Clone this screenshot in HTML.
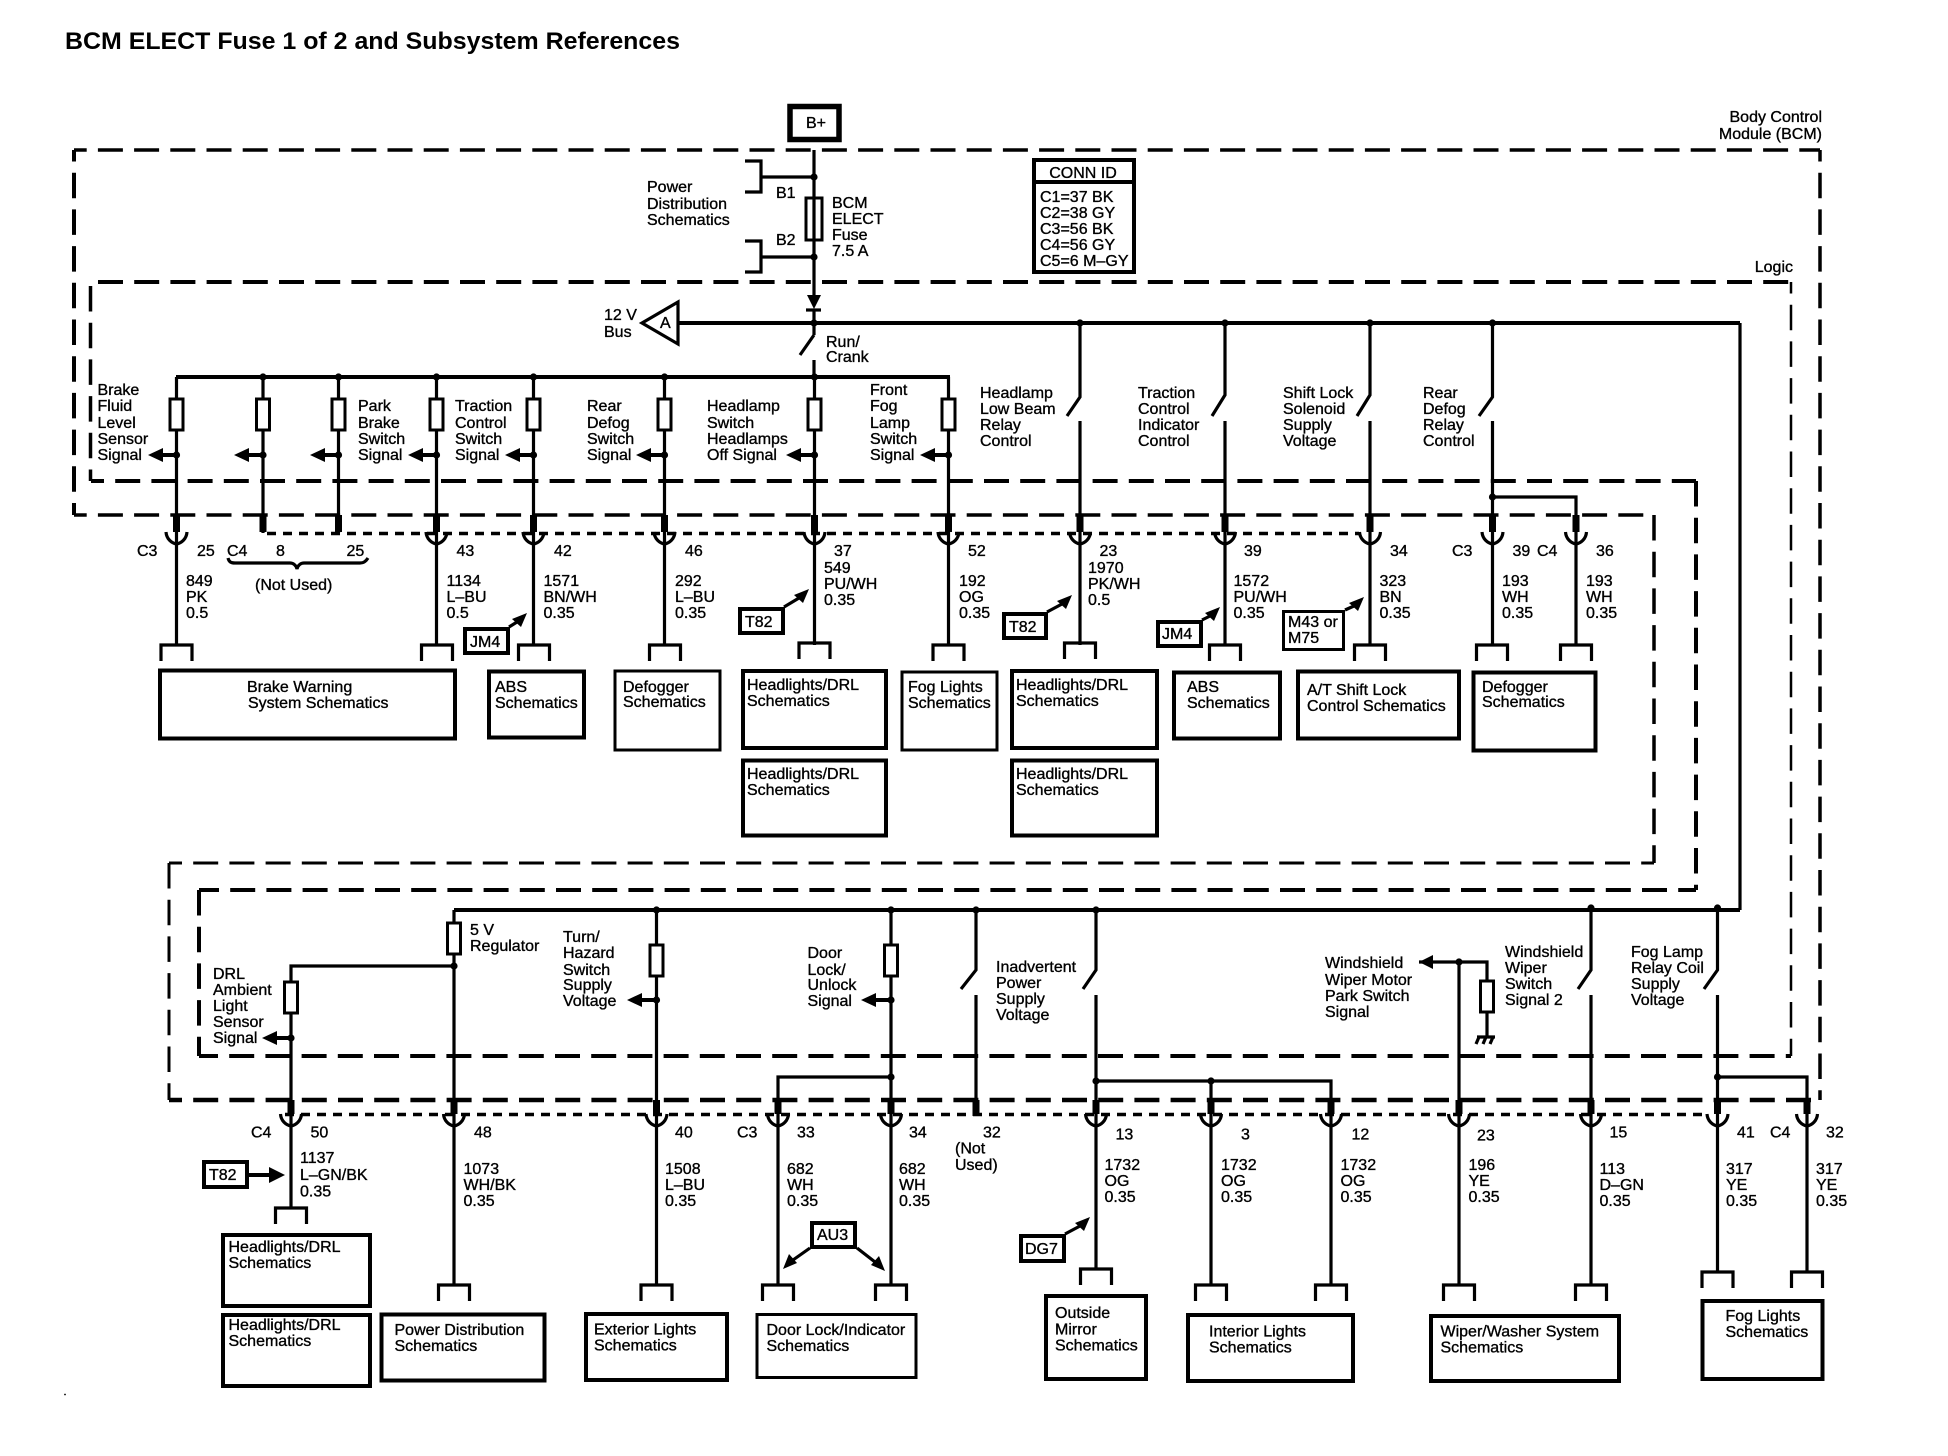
<!DOCTYPE html>
<html><head><meta charset="utf-8"><style>
html,body{margin:0;padding:0;background:#fff}
svg{display:block}
text{font-family:"Liberation Sans",sans-serif;font-size:16px;fill:#000;stroke:#000;stroke-width:.35}
.ttl{font-size:24px;font-weight:bold;stroke:none}
.w{fill:none;stroke:#000;stroke-width:3.2}
.t{fill:none;stroke:#000;stroke-width:4}
.k{fill:none;stroke:#000;stroke-width:7}
.b{fill:#fff;stroke:#000;stroke-width:4}
.b3{fill:#fff;stroke:#000;stroke-width:3}
.f{fill:#000;stroke:none}
.dh{fill:none;stroke:#000;stroke-dasharray:25 11.2}
.dv{fill:none;stroke:#000;stroke-dasharray:25.500 11.2}
.dot{fill:none;stroke:#000;stroke-width:3.500;stroke-dasharray:9 7}
</style></head><body>
<svg xmlns="http://www.w3.org/2000/svg" width="1948" height="1456" viewBox="0 0 1948 1456">
<defs>
<g id="cup"><path class="w" d="M-10.5 0C-10 7-5 11 0 12C5 11 10 7 10.5 0"/></g>
<g id="brk"><path class="w" d="M-15.5 16V0H15.5V16" /></g>
<rect id="fz" class="b3" x="-6.5" y="0" width="13" height="31"/>
<g id="arw"><path class="f" d="M0 0L15 -7V-2.000H30V2.000H15V7Z"/></g>
<circle id="d" class="f" r="3.6"/>
</defs>
<text class="ttl" x="65" y="49" textLength="615" lengthAdjust="spacingAndGlyphs">BCM ELECT Fuse 1 of 2 and Subsystem References</text>

<!-- outer BCM boundary -->
<path class="dh" stroke-width="3.500" stroke-dashoffset="12.300" d="M74 150H1820"/>
<path class="dv" stroke-width="4" stroke-dashoffset="14" d="M74 150V515"/>
<path class="dv" stroke-width="3.500" stroke-dashoffset="14" d="M1820 150V1100"/>
<path class="dh" stroke-width="3.500" stroke-dashoffset="12.300" d="M74 515H1654"/>
<path class="dv" stroke-width="3.500" d="M1654 515V863"/>
<path class="dh" stroke-width="3" stroke-dashoffset="12" d="M169 863H1654"/>
<path class="dv" stroke-width="3" d="M169 863V1100"/>
<path class="dh" stroke-width="4.500" stroke-dashoffset="12" d="M169 1100H1820"/>
<!-- logic boundary -->
<path class="dh" stroke-width="4" d="M98 282H1791"/>
<path class="dv" stroke-width="3.500" d="M90.500 286V481"/>
<path class="dh" stroke-width="4" stroke-dashoffset="12" d="M91 481H1696"/>
<path class="dv" stroke-width="4" d="M1696 481V890"/>
<path class="dh" stroke-width="4" stroke-dashoffset="5" d="M199 890H1696"/>
<path class="dv" stroke-width="4" d="M199 890V1056"/>
<path class="dh" stroke-width="4" stroke-dashoffset="6" d="M199 1056H1791"/>
<path class="dv" stroke-width="2.500" stroke-dashoffset="14" d="M1791 282V1056"/>
<path class="dot" d="M267 533.500H1359"/>
<path class="dot" d="M285 1114.500H1707"/>

<!-- B+ and fuse -->
<rect x="790" y="106.500" width="49" height="33" fill="#fff" stroke="#000" stroke-width="5.500"/>
<text x="806" y="128">B+</text>
<path class="w" d="M814 150V296M814 310V335M814 335L800 355M814 360V377"/>
<path class="f" d="M807 295H821L814 309Z"/>
<path class="w" d="M806 310H821"/>
<path class="w" d="M745 161H761V192H745M761 177H814M745 241H761V272H745M761 257H814"/>
<use href="#d" x="814" y="177"/><use href="#d" x="814" y="257"/>
<rect class="b3" x="806" y="198" width="16" height="42"/>
<path class="w" d="M814 198V240"/>
<text x="647" y="192">Power</text><text x="647" y="209">Distribution</text><text x="647" y="225">Schematics</text>
<text x="776" y="198">B1</text><text x="776" y="245">B2</text>
<text x="832" y="208">BCM</text><text x="832" y="224">ELECT</text><text x="832" y="240">Fuse</text><text x="832" y="256">7.5 A</text>
<text x="604" y="320">12 V</text><text x="604" y="337">Bus</text>
<path class="w" fill="#fff" d="M678 302L642 323L678 344Z"/>
<text x="660" y="328">A</text>
<text x="826" y="347">Run/</text><text x="826" y="362">Crank</text>
<text text-anchor="end" x="1822" y="122">Body Control</text><text text-anchor="end" x="1822" y="139">Module (BCM)</text>
<text text-anchor="end" x="1793" y="272">Logic</text>

<!-- CONN ID -->
<rect class="b" x="1034" y="160" width="100" height="112"/>
<path class="t" d="M1034 182H1134"/>
<text text-anchor="middle" x="1083" y="178">CONN ID</text>
<text x="1040" y="202">C1=37 BK</text><text x="1040" y="218">C2=38 GY</text><text x="1040" y="234">C3=56 BK</text><text x="1040" y="250">C4=56 GY</text><text x="1040" y="266">C5=6 M–GY</text>

<!-- buses -->
<path class="t" d="M678 323H1740M176 377H950M454 910H1740"/>
<path class="w" d="M1740 323V910"/>
<use href="#d" x="814" y="323"/>

<!-- upper fused columns -->
<path class="w" d="M176.500 377V645M263 377V533M338.500 377V533M436.500 377V645M533.500 377V645M664.500 377V645M814.500 377V645M948.500 377V645"/>
<g id="upperf">
<use href="#fz" x="176.500" y="399"/><use href="#fz" x="263" y="399"/><use href="#fz" x="338.500" y="399"/><use href="#fz" x="436.500" y="399"/><use href="#fz" x="533.500" y="399"/><use href="#fz" x="664.500" y="399"/><use href="#fz" x="814.500" y="399"/><use href="#fz" x="948.500" y="399"/>
</g>
<use href="#d" x="263" y="377"/><use href="#d" x="338.500" y="377"/><use href="#d" x="436.500" y="377"/><use href="#d" x="533.500" y="377"/><use href="#d" x="664.500" y="377"/><use href="#d" x="814.500" y="377"/>
<use href="#arw" x="148" y="455"/><use href="#d" x="176.500" y="455"/>
<use href="#arw" x="234" y="455"/><use href="#d" x="263" y="455"/>
<use href="#arw" x="310" y="455"/><use href="#d" x="338.500" y="455"/>
<use href="#arw" x="408" y="455"/><use href="#d" x="436.500" y="455"/>
<use href="#arw" x="505" y="455"/><use href="#d" x="533.500" y="455"/>
<use href="#arw" x="636" y="455"/><use href="#d" x="664.500" y="455"/>
<use href="#arw" x="786" y="455"/><use href="#d" x="814.500" y="455"/>
<use href="#arw" x="920" y="455"/><use href="#d" x="948.500" y="455"/>

<!-- upper relay switches -->
<path class="w" d="M1080 323V397L1067 416M1080 421V645M1225 323V395L1212 416M1225 421V645M1370 323V395L1357 416M1370 421V645M1492.500 323V397L1479 416M1492.500 421V645M1492.500 497H1576V645"/>
<use href="#d" x="1080" y="323"/><use href="#d" x="1225" y="323"/><use href="#d" x="1370" y="323"/><use href="#d" x="1492.500" y="323"/><use href="#d" x="1492.500" y="497"/>

<!-- upper thick stubs + cups -->
<path class="k" d="M176.500 515V532M263 515V532M338.500 515V532M436.500 515V532M533.500 515V532M664.500 515V532M814.500 515V532M948.500 515V532M1080 515V532M1225 515V532M1370 515V532M1492.500 515V532M1576 515V532"/>
<use href="#cup" x="176.500" y="532"/><use href="#cup" x="436.500" y="532"/><use href="#cup" x="533.500" y="532"/><use href="#cup" x="664.500" y="532"/><use href="#cup" x="814.500" y="532"/><use href="#cup" x="948.500" y="532"/><use href="#cup" x="1080" y="532"/><use href="#cup" x="1225" y="532"/><use href="#cup" x="1370" y="532"/><use href="#cup" x="1492.500" y="532"/><use href="#cup" x="1576" y="532"/>
<use href="#brk" x="176.500" y="645"/><use href="#brk" x="437" y="645"/><use href="#brk" x="534" y="645"/><use href="#brk" x="665" y="645"/><use href="#brk" x="814.500" y="643"/><use href="#brk" x="948.500" y="645"/><use href="#brk" x="1080" y="643"/><use href="#brk" x="1225" y="645"/><use href="#brk" x="1370" y="645"/><use href="#brk" x="1492" y="645"/><use href="#brk" x="1576" y="645"/>
<path class="w" d="M228 558C229 562 231 563 235 563H290C293 563 296 565 297 569C298 565 301 563 304 563H360C364 563 366 561 368 558"/>

<!-- upper signal labels -->
<text x="97.500" y="395">Brake</text><text x="97.500" y="411">Fluid</text><text x="97.500" y="428">Level</text><text x="97.500" y="444">Sensor</text><text x="97.500" y="460">Signal</text>
<text x="358" y="411">Park</text><text x="358" y="428">Brake</text><text x="358" y="444">Switch</text><text x="358" y="460">Signal</text>
<text x="455" y="411">Traction</text><text x="455" y="428">Control</text><text x="455" y="444">Switch</text><text x="455" y="460">Signal</text>
<text x="587" y="411">Rear</text><text x="587" y="428">Defog</text><text x="587" y="444">Switch</text><text x="587" y="460">Signal</text>
<text x="707" y="411">Headlamp</text><text x="707" y="428">Switch</text><text x="707" y="444">Headlamps</text><text x="707" y="460">Off Signal</text>
<text x="870" y="395">Front</text><text x="870" y="411">Fog</text><text x="870" y="428">Lamp</text><text x="870" y="444">Switch</text><text x="870" y="460">Signal</text>
<text x="980" y="398">Headlamp</text><text x="980" y="414">Low Beam</text><text x="980" y="430">Relay</text><text x="980" y="446">Control</text>
<text x="1138" y="398">Traction</text><text x="1138" y="414">Control</text><text x="1138" y="430">Indicator</text><text x="1138" y="446">Control</text>
<text x="1283" y="398">Shift Lock</text><text x="1283" y="414">Solenoid</text><text x="1283" y="430">Supply</text><text x="1283" y="446">Voltage</text>
<text x="1423" y="398">Rear</text><text x="1423" y="414">Defog</text><text x="1423" y="430">Relay</text><text x="1423" y="446">Control</text>

<!-- upper pin labels -->
<text x="137" y="556">C3</text><text x="197" y="556">25</text><text x="227" y="556">C4</text><text x="276" y="556">8</text><text x="346.500" y="556">25</text><text x="456.500" y="556">43</text><text x="554" y="556">42</text><text x="685" y="556">46</text><text x="834" y="556">37</text><text x="968" y="556">52</text><text x="1099.500" y="556">23</text><text x="1244" y="556">39</text><text x="1390" y="556">34</text><text x="1452" y="556">C3</text><text x="1512.500" y="556">39</text><text x="1537" y="556">C4</text><text x="1596" y="556">36</text>
<text x="255" y="590">(Not Used)</text>

<!-- upper wire labels -->
<text x="186" y="586">849</text><text x="186" y="602">PK</text><text x="186" y="618">0.5</text>
<text x="446.500" y="586">1134</text><text x="446.500" y="602">L–BU</text><text x="446.500" y="618">0.5</text>
<text x="543.500" y="586">1571</text><text x="543.500" y="602">BN/WH</text><text x="543.500" y="618">0.35</text>
<text x="675" y="586">292</text><text x="675" y="602">L–BU</text><text x="675" y="618">0.35</text>
<text x="824" y="573">549</text><text x="824" y="589">PU/WH</text><text x="824" y="605">0.35</text>
<text x="959" y="586">192</text><text x="959" y="602">OG</text><text x="959" y="618">0.35</text>
<text x="1088" y="573">1970</text><text x="1088" y="589">PK/WH</text><text x="1088" y="605">0.5</text>
<text x="1233.500" y="586">1572</text><text x="1233.500" y="602">PU/WH</text><text x="1233.500" y="618">0.35</text>
<text x="1379.500" y="586">323</text><text x="1379.500" y="602">BN</text><text x="1379.500" y="618">0.35</text>
<text x="1502" y="586">193</text><text x="1502" y="602">WH</text><text x="1502" y="618">0.35</text>
<text x="1586" y="586">193</text><text x="1586" y="602">WH</text><text x="1586" y="618">0.35</text>

<!-- upper tags -->
<rect class="b" x="465" y="629" width="43" height="24"/><text x="470" y="647">JM4</text>
<path class="w" d="M509 627L517 622"/><path class="f" d="M527 613L512 619L521 627Z"/>
<rect class="b" x="740" y="609" width="43" height="24"/><text x="745" y="627">T82</text>
<path class="w" d="M784 607L799 598"/><path class="f" d="M809 589L794 595L803 603Z"/>
<rect class="b" x="1004" y="614" width="42" height="24"/><text x="1009" y="632">T82</text>
<path class="w" d="M1047 612L1062 604"/><path class="f" d="M1072 595L1057 601L1066 609Z"/>
<rect class="b" x="1158" y="622" width="43" height="24"/><text x="1162" y="639">JM4</text>
<path class="w" d="M1202 620L1210 616"/><path class="f" d="M1220 607L1205 613L1214 621Z"/>
<rect class="b3" x="1283.500" y="611.500" width="60" height="38"/><text x="1288" y="627">M43 or</text><text x="1288" y="643">M75</text>
<path class="w" d="M1345 610L1354 606"/><path class="f" d="M1364 597L1349 603L1358 611Z"/>

<!-- upper boxes -->
<rect class="b" x="160" y="670.500" width="295" height="68"/><text x="247" y="692">Brake Warning</text><text x="248" y="708">System Schematics</text>
<rect class="b" x="489" y="671.500" width="95" height="66"/><text x="495" y="692">ABS</text><text x="495" y="708">Schematics</text>
<rect class="b3" x="615" y="671" width="105" height="79"/><text x="623" y="692">Defogger</text><text x="623" y="707">Schematics</text>
<rect class="b" x="743" y="671" width="143" height="77"/><text x="747" y="690">Headlights/DRL</text><text x="747" y="706">Schematics</text>
<rect class="b" x="743" y="760.500" width="143" height="75"/><text x="747" y="779">Headlights/DRL</text><text x="747" y="795">Schematics</text>
<rect class="b3" x="902" y="672" width="95" height="78"/><text x="908" y="692">Fog Lights</text><text x="908" y="708">Schematics</text>
<rect class="b" x="1012" y="671" width="145" height="77"/><text x="1016" y="690">Headlights/DRL</text><text x="1016" y="706">Schematics</text>
<rect class="b" x="1012" y="760.500" width="145" height="75"/><text x="1016" y="779">Headlights/DRL</text><text x="1016" y="795">Schematics</text>
<rect class="b" x="1174" y="672.500" width="106" height="66"/><text x="1187" y="692">ABS</text><text x="1187" y="708">Schematics</text>
<rect class="b" x="1298" y="671.500" width="161" height="67"/><text x="1307" y="695">A/T Shift Lock</text><text x="1307" y="711">Control Schematics</text>
<rect class="b" x="1473.500" y="672.500" width="122" height="78"/><text x="1482" y="692">Defogger</text><text x="1482" y="707">Schematics</text>

<!-- lower wires -->
<path class="w" d="M454 910V1285M454 966H291V1208M656.500 910V1285M891 910V1285M891 1077H778V1285M976 910V970L961 989M976 995V1115M1096 910V970L1083 989M1096 995V1269M1096 1081H1331V1285M1211 1081V1285M1459 962V1285M1419 962H1487V1036M1591 910V970L1578 989M1591 995V1285M1717.500 910V970L1704 989M1717.500 995V1272M1717.500 1077H1807V1272"/>
<use href="#fz" x="454" y="923"/><use href="#fz" x="291" y="982"/><use href="#fz" x="656.500" y="945"/><use href="#fz" x="891" y="945"/><use href="#fz" x="1487" y="981"/>
<use href="#d" x="656.500" y="910"/><use href="#d" x="891" y="910"/><use href="#d" x="976" y="910"/><use href="#d" x="1096" y="910"/><use href="#d" x="1591" y="908"/><use href="#d" x="1717.500" y="908"/>
<use href="#d" x="454" y="966"/><use href="#d" x="891" y="1077"/><use href="#d" x="1096" y="1081"/><use href="#d" x="1211" y="1081"/><use href="#d" x="1459" y="962"/><use href="#d" x="1717.500" y="1077"/>
<use href="#arw" x="262" y="1038"/><use href="#d" x="291" y="1038"/>
<use href="#arw" x="627" y="1000"/><use href="#d" x="656.500" y="1000"/>
<use href="#arw" x="861" y="1000"/><use href="#d" x="891" y="1000"/>
<path class="f" d="M1419 962L1433 955V969Z"/>
<path class="w" d="M1477 1037H1495M1479 1037L1476 1044M1486 1037L1483 1044M1493 1037L1490 1044"/>

<!-- lower stubs/cups/brackets -->
<path class="k" d="M291 1100V1114M454 1100V1114M656.500 1100V1114M778 1100V1114M891 1100V1114M976 1100V1116M1096 1100V1114M1211 1100V1114M1331 1100V1114M1459 1100V1114M1591 1100V1114M1717.500 1100V1114M1807 1100V1114"/>
<use href="#cup" x="291" y="1114"/><use href="#cup" x="454" y="1114"/><use href="#cup" x="656.500" y="1114"/><use href="#cup" x="778" y="1114"/><use href="#cup" x="891" y="1114"/><use href="#cup" x="1096" y="1114"/><use href="#cup" x="1211" y="1114"/><use href="#cup" x="1331" y="1114"/><use href="#cup" x="1459" y="1114"/><use href="#cup" x="1591" y="1114"/><use href="#cup" x="1717.500" y="1114"/><use href="#cup" x="1807" y="1114"/>
<use href="#brk" x="291" y="1208"/><use href="#brk" x="454" y="1285"/><use href="#brk" x="656.500" y="1285"/><use href="#brk" x="778" y="1285"/><use href="#brk" x="891" y="1285"/><use href="#brk" x="1096" y="1269"/><use href="#brk" x="1211" y="1285"/><use href="#brk" x="1331" y="1285"/><use href="#brk" x="1459" y="1285"/><use href="#brk" x="1591" y="1285"/><use href="#brk" x="1717.500" y="1272"/><use href="#brk" x="1807" y="1272"/>

<!-- lower signal labels -->
<text x="470" y="935">5 V</text><text x="470" y="951">Regulator</text>
<text x="213" y="979">DRL</text><text x="213" y="995">Ambient</text><text x="213" y="1011">Light</text><text x="213" y="1027">Sensor</text><text x="213" y="1043">Signal</text>
<text x="563" y="942">Turn/</text><text x="563" y="958">Hazard</text><text x="563" y="975">Switch</text><text x="563" y="990">Supply</text><text x="563" y="1006">Voltage</text>
<text x="807.500" y="958">Door</text><text x="807.500" y="975">Lock/</text><text x="807.500" y="990">Unlock</text><text x="807.500" y="1006">Signal</text>
<text x="996" y="972">Inadvertent</text><text x="996" y="988">Power</text><text x="996" y="1004">Supply</text><text x="996" y="1020">Voltage</text>
<text x="1325" y="968">Windshield</text><text x="1325" y="985">Wiper Motor</text><text x="1325" y="1001">Park Switch</text><text x="1325" y="1017">Signal</text>
<text x="1505" y="957">Windshield</text><text x="1505" y="973">Wiper</text><text x="1505" y="989">Switch</text><text x="1505" y="1005">Signal 2</text>
<text x="1631" y="957">Fog Lamp</text><text x="1631" y="973">Relay Coil</text><text x="1631" y="989">Supply</text><text x="1631" y="1005">Voltage</text>

<!-- lower pin labels -->
<text x="251" y="1137.500">C4</text><text x="310.500" y="1137.500">50</text><text x="474" y="1137.500">48</text><text x="675" y="1137.500">40</text><text x="737" y="1137.500">C3</text><text x="797" y="1137.500">33</text><text x="909" y="1137.500">34</text><text x="983" y="1137.500">32</text><text x="1115.500" y="1139.500">13</text><text x="1241" y="1139.500">3</text><text x="1351.500" y="1139.500">12</text><text x="1477" y="1140.500">23</text><text x="1609.500" y="1137.500">15</text><text x="1737" y="1137.500">41</text><text x="1770" y="1137.500">C4</text><text x="1826" y="1137.500">32</text>
<text x="955" y="1153.500">(Not</text><text x="955" y="1170">Used)</text>

<!-- lower wire labels -->
<text x="300" y="1163">1137</text><text x="300" y="1180">L–GN/BK</text><text x="300" y="1196.500">0.35</text>
<text x="463.500" y="1174">1073</text><text x="463.500" y="1190">WH/BK</text><text x="463.500" y="1206">0.35</text>
<text x="665" y="1174">1508</text><text x="665" y="1190">L–BU</text><text x="665" y="1206">0.35</text>
<text x="787" y="1174">682</text><text x="787" y="1190">WH</text><text x="787" y="1206">0.35</text>
<text x="899" y="1174">682</text><text x="899" y="1190">WH</text><text x="899" y="1206">0.35</text>
<text x="1104.500" y="1170">1732</text><text x="1104.500" y="1186">OG</text><text x="1104.500" y="1202">0.35</text>
<text x="1221" y="1170">1732</text><text x="1221" y="1186">OG</text><text x="1221" y="1202">0.35</text>
<text x="1340.500" y="1170">1732</text><text x="1340.500" y="1186">OG</text><text x="1340.500" y="1202">0.35</text>
<text x="1468.500" y="1170">196</text><text x="1468.500" y="1186">YE</text><text x="1468.500" y="1202">0.35</text>
<text x="1599.500" y="1174">113</text><text x="1599.500" y="1190">D–GN</text><text x="1599.500" y="1206">0.35</text>
<text x="1726" y="1174">317</text><text x="1726" y="1190">YE</text><text x="1726" y="1206">0.35</text>
<text x="1816" y="1174">317</text><text x="1816" y="1190">YE</text><text x="1816" y="1206">0.35</text>

<!-- lower tags -->
<rect class="b" x="204" y="1162" width="43" height="25"/><text x="209" y="1180">T82</text>
<path class="t" d="M248 1175H270"/><path class="f" d="M285 1175L269 1167V1183Z"/>
<rect class="b" x="812" y="1223" width="43" height="24"/><text x="817" y="1240">AU3</text>
<path class="w" d="M810 1248L793 1260M857 1248L875 1262"/><path class="f" d="M783 1269L789 1254L797 1263Z"/><path class="f" d="M885 1271L879 1256L871 1265Z"/>
<rect class="b" x="1021" y="1236" width="43" height="25"/><text x="1025" y="1254">DG7</text>
<path class="w" d="M1065 1234L1080 1226"/><path class="f" d="M1090 1217L1075 1223L1084 1231Z"/>

<!-- lower boxes -->
<rect class="b" x="223" y="1235" width="147" height="71"/><text x="228.500" y="1252">Headlights/DRL</text><text x="228.500" y="1268">Schematics</text>
<rect class="b" x="223" y="1315" width="147" height="71"/><text x="228.500" y="1330">Headlights/DRL</text><text x="228.500" y="1346">Schematics</text>
<rect class="b" x="381.500" y="1314.500" width="163" height="66"/><text x="394.500" y="1335">Power Distribution</text><text x="394.500" y="1351">Schematics</text>
<rect class="b" x="586" y="1314" width="141" height="66"/><text x="594" y="1334.500">Exterior Lights</text><text x="594" y="1350.500">Schematics</text>
<rect class="b3" x="757" y="1314.500" width="159" height="63"/><text x="766.500" y="1335">Door Lock/Indicator</text><text x="766.500" y="1351">Schematics</text>
<rect class="b" x="1046" y="1296" width="100" height="83"/><text x="1055" y="1318">Outside</text><text x="1055" y="1334.500">Mirror</text><text x="1055" y="1350.500">Schematics</text>
<rect class="b" x="1188" y="1315" width="165" height="66"/><text x="1209" y="1336.500">Interior Lights</text><text x="1209" y="1352.500">Schematics</text>
<rect class="b" x="1431" y="1316" width="188" height="65"/><text x="1440.500" y="1336.500">Wiper/Washer System</text><text x="1440.500" y="1352.500">Schematics</text>
<rect class="b" x="1702.500" y="1301" width="120" height="78"/><text x="1725.500" y="1321">Fog Lights</text><text x="1725.500" y="1337">Schematics</text>
<circle class="f" cx="65" cy="1394.500" r="0.900"/>
</svg>
</body></html>
